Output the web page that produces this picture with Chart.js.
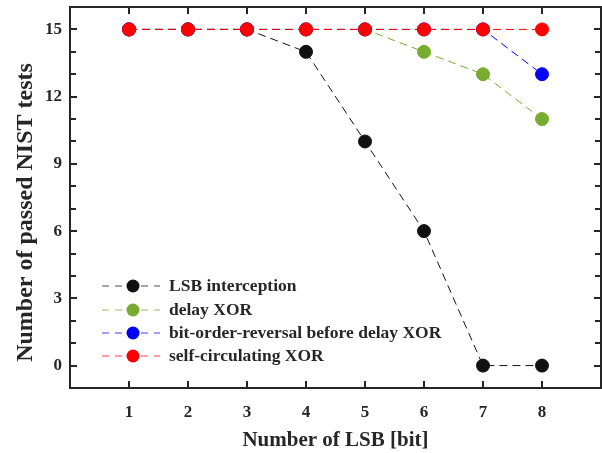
<!DOCTYPE html>
<html>
<head>
<meta charset="utf-8">
<script src="https://cdn.jsdelivr.net/npm/chart.js@4"></script>
<style>
  body { margin: 0; background: #fff; }
  #wrap { width: 602px; height: 453px; }
</style>
</head>
<body>
<div id="wrap"><canvas id="chart" width="602" height="453"></canvas></div>
<script>
const lsbBits = [1, 2, 3, 4, 5, 6, 7, 8];
const lsbInterception = [15, 15, 15, 14, 10, 6, 0, 0];
const delayXor = [15, 15, 15, 15, 15, 14, 13, 11];
const reversalDelayXor = [15, 15, 15, 15, 15, 15, 15, 13];
const selfCirculatingXor = [15, 15, 15, 15, 15, 15, 15, 15];
const seriesNames = ["LSB interception", "delay XOR", "bit-order-reversal before delay XOR", "self-circulating XOR"];
const seriesColors = ["#111111", "#77AC30", "#0000FF", "#FF0000"];
const yTickLabels = [0, 3, 6, 9, 12, 15];
const yTitle = "Number of passed NIST tests";
const xTitle = "Number of LSB [bit]";

const serif = "'Liberation Serif', 'Times New Roman', serif";
const ink = "#262626";

function toPoints(vals) {
    return vals.map((v, i) => ({ x: lsbBits[i], y: v }));
}

const allSeries = [lsbInterception, delayXor, reversalDelayXor, selfCirculatingXor];
const datasets = allSeries.map((vals, i) => ({
    label: seriesNames[i],
    data: toPoints(vals),
    order: allSeries.length - 1 - i,   // later series on top
    borderColor: seriesColors[i],
    backgroundColor: seriesColors[i],
    pointBackgroundColor: seriesColors[i],
    pointBorderColor: seriesColors[i],
    borderWidth: 1,
    borderDash: [8, 5],
    pointRadius: 6.5,
    pointHoverRadius: 6.5,
    tension: 0
}));

// inward ticks on all four sides + frame
const boxTicks = {
    id: "boxTicks",
    afterDraw(chart) {
        const ctx = chart.ctx;
        const a = chart.chartArea;
        const xs = chart.scales.x, ys = chart.scales.y;
        ctx.save();
        ctx.strokeStyle = ink;
        ctx.lineWidth = 2;
        ctx.beginPath();
        lsbBits.forEach(b => {
            const px = Math.round(xs.getPixelForValue(b));
            ctx.moveTo(px, a.bottom); ctx.lineTo(px, a.bottom - 7);
            ctx.moveTo(px, a.top); ctx.lineTo(px, a.top + 7);
        });
        for (let v = 0; v <= 15; v++) {
            const py = Math.round(ys.getPixelForValue(v));
            const len = v % 3 === 0 ? 7 : 6;
            ctx.moveTo(a.left, py); ctx.lineTo(a.left + len, py);
            ctx.moveTo(a.right, py); ctx.lineTo(a.right - len, py);
        }
        ctx.stroke();
        ctx.strokeRect(a.left, a.top, a.right - a.left, a.bottom - a.top);

        // y title, placed a bit below the axis centre as in the original
        ctx.fillStyle = ink;
        ctx.font = "bold 24px " + serif;
        ctx.textAlign = "center";
        ctx.textBaseline = "middle";
        ctx.translate(26, (a.top + a.bottom) / 2 + 15);
        ctx.rotate(-Math.PI / 2);
        ctx.fillText(yTitle, 0, 0);
        ctx.restore();
    }
};

// legend drawn inside the plot, bottom-left
const innerLegend = {
    id: "innerLegend",
    afterDraw(chart) {
        const ctx = chart.ctx;
        const a = chart.chartArea;
        const x0 = a.left + 32, x1 = a.left + 90, mx = a.left + 63;
        const rowY = [286, 310, 333, 356];
        ctx.save();
        seriesNames.forEach((name, i) => {
            const ds = chart.data.datasets[i];
            const y = rowY[i];
            ctx.strokeStyle = ds.borderColor;
            ctx.globalAlpha = 0.75;
            ctx.lineWidth = 1;
            ctx.setLineDash([7, 6]);
            ctx.beginPath();
            ctx.moveTo(x0, y); ctx.lineTo(x1, y);
            ctx.stroke();
            ctx.globalAlpha = 1;
            ctx.setLineDash([]);
            ctx.fillStyle = ds.pointBackgroundColor;
            ctx.beginPath();
            ctx.arc(mx, y, ds.pointRadius, 0, Math.PI * 2);
            ctx.fill();
            ctx.fillStyle = ink;
            ctx.font = "bold 17.5px " + serif;
            ctx.textBaseline = "middle";
            ctx.fillText(name, x1 + 9, y);
        });
        ctx.restore();
    }
};

new Chart(document.getElementById("chart"), {
    type: "line",
    data: { datasets },
    plugins: [boxTicks, innerLegend],
    options: {
        responsive: false,
        animation: false,
        layout: { autoPadding: false, padding: { top: 7, right: 1, left: 0, bottom: 0 } },
        plugins: { legend: { display: false }, tooltip: { enabled: false } },
        scales: {
            x: {
                type: "linear",
                min: 0, max: 9,
                grid: { display: false, drawTicks: false },
                border: { display: false },
                ticks: {
                    stepSize: 1,
                    autoSkip: false,
                    maxRotation: 0,
                    padding: 14,
                    color: ink,
                    font: { family: serif, size: 17, weight: "bold" },
                    callback: v => lsbBits.includes(v) ? v : ""
                },
                title: {
                    display: true,
                    text: xTitle,
                    color: ink,
                    font: { family: serif, size: 21, weight: "bold" },
                    padding: { top: 2, bottom: 0 }
                },
                afterFit(scale) {
                    scale.height = 65;
                    scale.paddingLeft = 0;
                    scale.paddingRight = 0;
                }
            },
            y: {
                min: -1, max: 16,
                grid: { display: false, drawTicks: false },
                border: { display: false },
                ticks: {
                    stepSize: 1,
                    autoSkip: false,
                    padding: 8,
                    color: ink,
                    font: { family: serif, size: 17, weight: "bold" },
                    callback: v => yTickLabels.includes(v) ? v : ""
                },
                afterFit(scale) {
                    scale.width = 70;
                    scale.paddingTop = 0;
                    scale.paddingBottom = 0;
                }
            }
        }
    }
});
</script>
</body>
</html>
